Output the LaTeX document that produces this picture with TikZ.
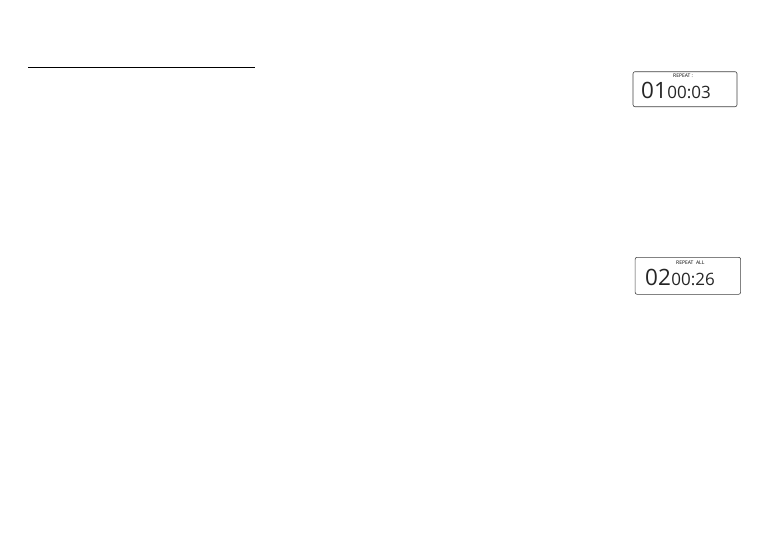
\documentclass[tikz,border=0pt]{standalone}
\usepackage{fontspec}
\setmainfont{Open Sans}
\begin{document}
\begin{tikzpicture}[x=1pt,y=-1pt,
  lcd/.style={draw=black!75,line width=0.6pt,rounded corners=2pt},
  big/.style={inner sep=0pt,anchor=base west,text=black!85,font=\fontsize{22.5}{22.5}\selectfont},
  mid/.style={inner sep=0pt,anchor=base west,text=black!85,font=\fontsize{17}{17}\selectfont},
  tiny/.style={inner sep=0pt,anchor=base west,font=\fontsize{5}{5}\selectfont}]
\useasboundingbox (0,0) rectangle (765,539);
\coordinate (la) at (28,67.3);
\coordinate (lb) at (255,67.3);
\draw[line width=1pt] (la) -- (lb);
\node[lcd,minimum width=104pt,minimum height=35pt,inner sep=0pt] (box1) at (685,89.2) {};
\node[big] (n1) at (641,98) {01};
\node[mid] (t1) at (n1.base east) {00:03};
\node[tiny] (r1) at (673,77.5) {REPEAT :};
\node[lcd,minimum width=105.5pt,minimum height=37pt,inner sep=0pt] (box2) at (687.9,275.8) {};
\node[big] (n2) at (645,285) {02};
\node[mid] (t2) at (n2.base east) {00:26};
\node[tiny] (r2) at (676,264) {REPEAT\ \ ALL};
\end{tikzpicture}
\end{document}
